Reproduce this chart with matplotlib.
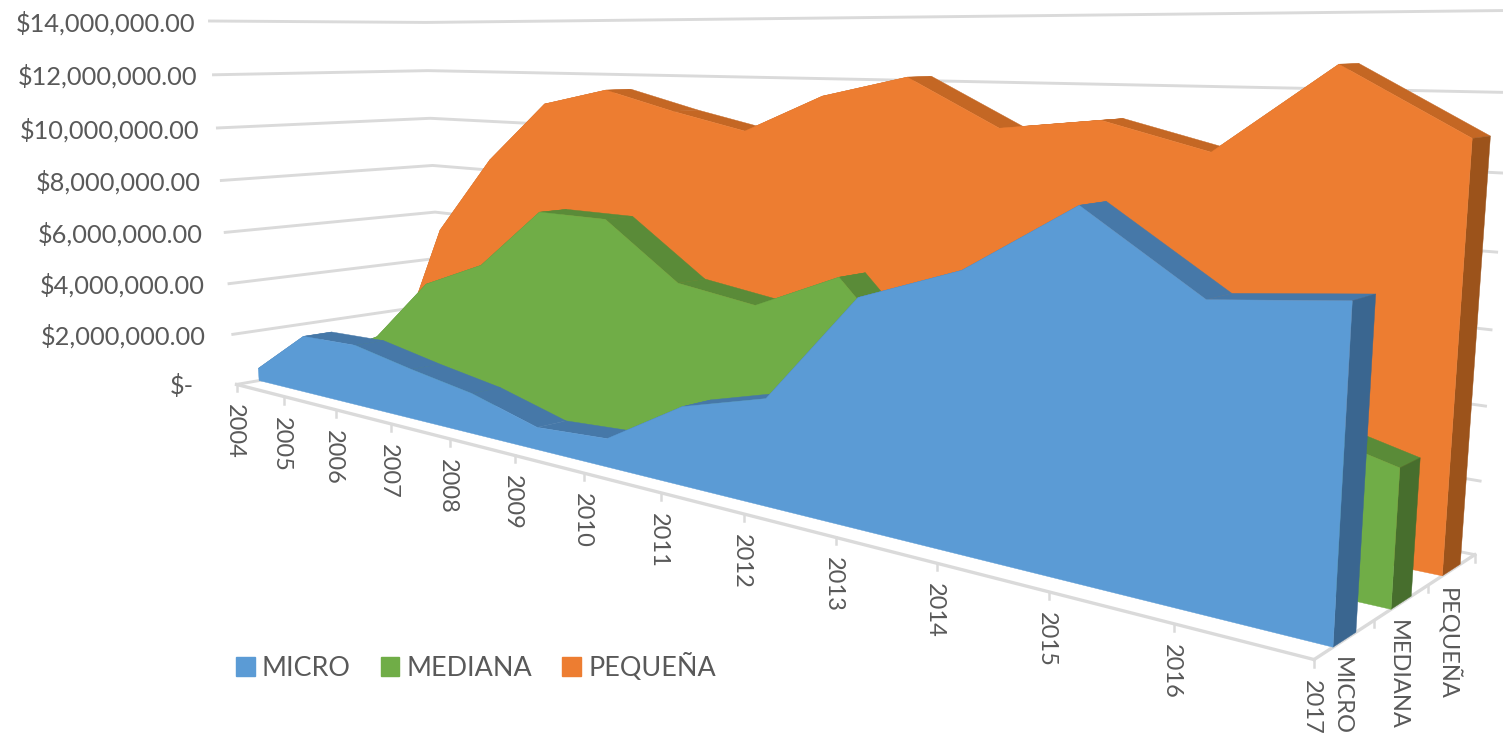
"""3D area chart (Excel style) drawn on a flat axes through a fitted camera matrix."""

import matplotlib

matplotlib.use("Agg")
import matplotlib.pyplot as plt
import numpy as np
from matplotlib.patches import Patch

YEARS = list(range(2004, 2018))
SERIES_NAMES = ["MICRO", "MEDIANA", "PEQUEÑA"]
Y_TICKS = [0, 2e6, 4e6, 6e6, 8e6, 10e6, 12e6, 14e6]

MICRO = [0.49e6, 2.19e6, 2.26e6, 1.81e6, 1.42e6, 0.76e6, 0.93e6,
         2.47e6, 3.21e6, 6.49e6, 7.54e6, 9.42e6, 7.49e6, 7.82e6]
MEDIANA = [0.54e6, 1.73e6, 4.16e6, 5.19e6, 7.37e6, 7.36e6, 5.52e6,
           5.15e6, 6.36e6, 3.50e6, 3.70e6, 4.00e6, 4.30e6, 3.47e6]
PEQUENA = [0.20e6, 5.68e6, 8.68e6, 10.93e6, 11.51e6, 10.85e6, 10.29e6,
           11.52e6, 12.17e6, 10.74e6, 11.08e6, 10.34e6, 12.69e6, 10.97e6]

# camera fitted to the axis corners: (year index, depth, value in millions) -> pixels
CAMERA = np.array([
    [38.041074, 84.975174, -2.543044, 236.535214],
    [-1.345784, 1.299969, -26.021661, 384.435501],
    [-0.034127, 0.037408, -0.002918, 1.0],
])

GRID = "#dadada"
TEXT = "#595959"
FONT = "Lato"
FRONT, BACK = 0.30, 0.68  # extent of a series inside its depth slot


def project(x, depth, value):
    """Map year index, depth slot and dollars to canvas pixels."""
    x = np.atleast_1d(np.asarray(x, float))
    value = np.broadcast_to(np.asarray(value, float), x.shape)
    pts = np.stack([x, np.full_like(x, depth), value / 1e6, np.ones_like(x)])
    u, v, w = CAMERA @ pts
    return u / w, v / w


def draw_area(ax, values, slot, face, top, side, z):
    idx = np.arange(len(values), dtype=float)
    vals = np.array(values, float)
    d0, d1 = slot + FRONT, slot + BACK
    fx, fy = project(idx, d0, vals)
    bx, by = project(idx, d1, vals)
    # top ribbon first, the front face covers the parts turned away
    for i in range(len(vals) - 1):
        ax.fill([fx[i], fx[i + 1], bx[i + 1], bx[i]], [fy[i], fy[i + 1], by[i + 1], by[i]],
                facecolor=top, edgecolor=top, lw=0.3, zorder=z)
    # end face on the 2017 side
    gx0, gy0 = project(idx[-1], d0, 0)
    gx1, gy1 = project(idx[-1], d1, 0)
    ax.fill([fx[-1], bx[-1], gx1[0], gx0[0]], [fy[-1], by[-1], gy1[0], gy0[0]],
            facecolor=side, edgecolor=side, lw=0.3, zorder=z + 0.1)
    # front face
    ux, uy = project(idx, d0, 0)
    ax.fill(np.r_[fx, ux[::-1]], np.r_[fy, uy[::-1]], facecolor=face, edgecolor=face,
            lw=0.3, zorder=z + 0.2)


def main():
    fig = plt.figure(figsize=(15.03, 7.33), dpi=100)
    ax = fig.add_axes([0, 0, 1, 1])
    ax.set_xlim(0, 1503)
    ax.set_ylim(733, 0)
    ax.axis("off")

    last = len(YEARS) - 1

    # walls
    for val in Y_TICKS:
        u0, v0 = project(0, 0, val)
        u1, v1 = project(0, 3, val)
        u2, v2 = project(last, 3, val)
        ax.plot([u0[0], u1[0], u2[0]], [v0[0], v1[0], v2[0]], color=GRID, lw=2.1, zorder=1)

    # floor axes and tick marks
    u, v = project([0, last], 0, 0)
    ax.plot(u, v, color=GRID, lw=2.4, zorder=1.5)
    u0, v0 = project(last, 0, 0)
    u1, v1 = project(last, 3, 0)
    ax.plot([u0[0], u1[0]], [v0[0], v1[0]], color=GRID, lw=2.4, zorder=1.5)

    xs, ys = project(np.arange(len(YEARS)), 0, 0)
    for u, v, year in zip(xs, ys, YEARS):
        ax.plot([u, u], [v, v + 7], color=GRID, lw=1.8, zorder=1.5)
        ax.text(u - 2.5, v + 20, str(year), rotation=270, ha="center", va="top",
                fontsize=17, color=TEXT, family=FONT)
    for slot in [1, 2, 3]:
        u, v = project(last, slot, 0)
        ax.plot([u[0], u[0]], [v[0], v[0] + 7], color=GRID, lw=1.8, zorder=1.5)
    for slot, name in enumerate(SERIES_NAMES):
        u, v = project(last, slot + 0.5, 0)
        ax.text(u[0] - 4, v[0] + 18, name, rotation=270, ha="center", va="top",
                fontsize=17, color=TEXT, family=FONT)

    # value labels
    for val in Y_TICKS:
        u, v = project(0, 0, val)
        label = f"${val:,.2f}" if val else "$-"
        right = 194 if val == 0 else u[0] - 14 - 15 * (1 - val / 14e6)
        ax.text(right, v[0] + 2, label, ha="right", va="center",
                fontsize=18.3, color=TEXT, family=FONT)

    # back to front
    draw_area(ax, PEQUENA, 2, "#ed7d31", "#c46724", "#9c531b", 3)
    draw_area(ax, MEDIANA, 1, "#70ad47", "#5a8b38", "#476e2d", 4)
    draw_area(ax, MICRO, 0, "#5b9bd5", "#4678a8", "#3a6690", 5)

    handles = [Patch(color=c, label=n) for c, n in zip(["#5b9bd5", "#70ad47", "#ed7d31"], SERIES_NAMES)]
    ax.legend(handles=handles, loc="center left", bbox_to_anchor=(212, 667), bbox_transform=ax.transData,
              ncol=3, frameon=False, handlelength=0.68, handleheight=0.68, handletextpad=0.27,
              columnspacing=1.12, prop={"family": FONT, "size": 19.4}, labelcolor=TEXT)

    fig.savefig("out.png", dpi=100)


if __name__ == "__main__":
    main()
